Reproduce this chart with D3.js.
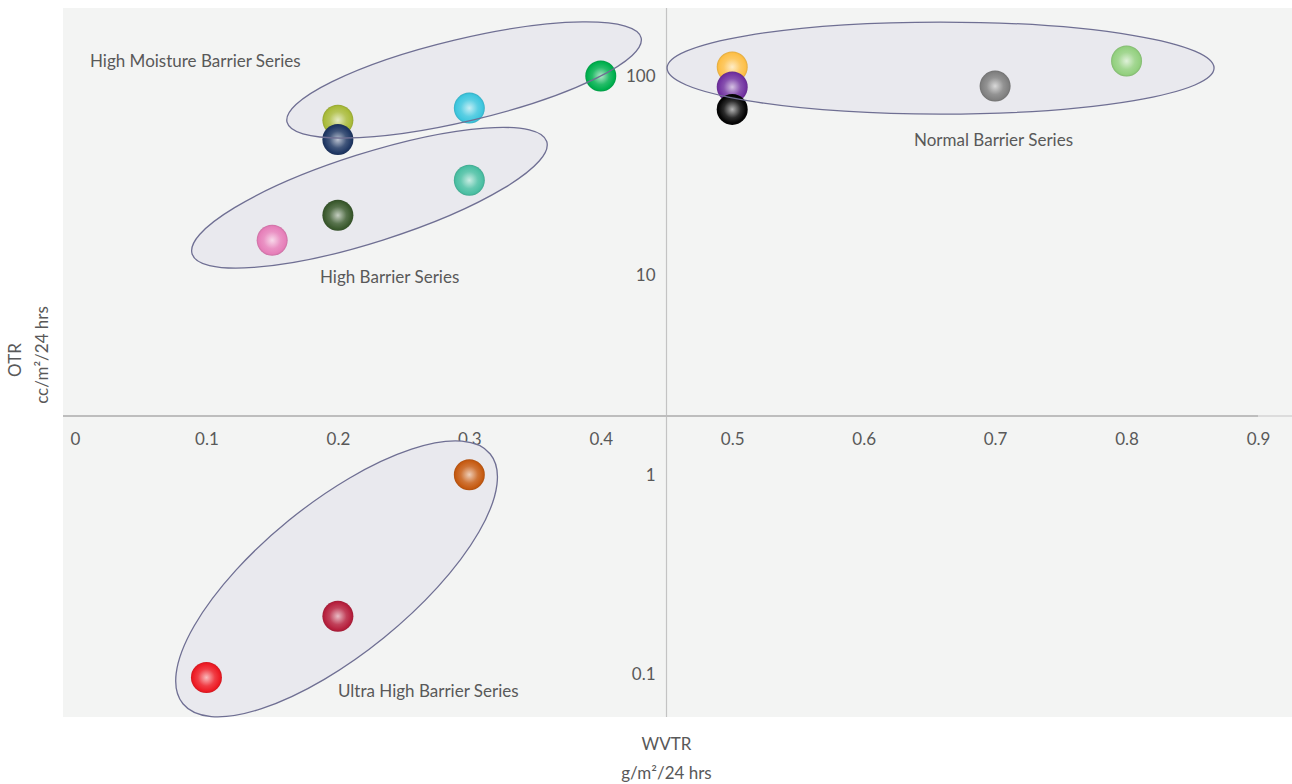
<!DOCTYPE html>
<html>
<head>
<meta charset="utf-8">
<script src="https://cdn.jsdelivr.net/npm/d3@7"></script>
<style>
  body { margin: 0; background: #fff; }
  text { font-family: Lato, "Open Sans", sans-serif; fill: #595959; font-weight: 400; }
</style>
</head>
<body>
<svg id="chart" width="1292" height="784"></svg>
<script>
"use strict";

// data
var seriesNames = [ "High Moisture Barrier Series", "High Barrier Series",
                    "Normal Barrier Series", "Ultra High Barrier Series" ];
var pointSeries = [ 0, 0, 0, 0,  1, 1, 1,  2, 2, 2, 2, 2,  3, 3, 3 ];
var wvtr        = [ 0.2, 0.2, 0.3, 0.4,  0.15, 0.2, 0.3,  0.5, 0.5, 0.5, 0.7, 0.8,  0.1, 0.2, 0.3 ];
var otr         = [ 60, 48, 69, 100,  15, 20, 30,  111, 88, 68, 89, 119,  0.096, 0.195, 1 ];
var xTicks = [ 0, 0.1, 0.2, 0.3, 0.4, 0.5, 0.6, 0.7, 0.8, 0.9 ];
var yTicks = [ 0.1, 1, 10, 100 ];
// group centres in data units
var groupWvtr = [ 0.296, 0.224, 0.6585, 0.199 ];
var groupOtr  = [ 95.5, 24.5, 109.6, 0.30 ];

// styles
var pointColors = [ "#a9bb3a", "#203864", "#3ec6de", "#00b04e",
                    "#e67fb9", "#3b5a2e", "#4bbfa3",
                    "#fdbf47", "#7232a1", "#050505", "#808080", "#93d07f",
                    "#ed1b24", "#b6203d", "#c65b12" ];
var ellipseShape = [ { rx: 182, ry: 41, rot: -13.4 },
                     { rx: 186, ry: 44.4, rot: -17.6 },
                     { rx: 273.5, ry: 46, rot: 0 },
                     { rx: 198, ry: 75.5, rot: -39.1 } ];
var labelPos = [ { x: 90, y: 67 }, { x: 320, y: 283 }, { x: 914, y: 146 }, { x: 338, y: 697 } ];

var svg = d3.select("#chart");
var W = 1292;

var x = d3.scaleLinear().domain([ 0, 0.9 ]).range([ 75, 1258 ]);
var y = d3.scaleLog().domain([ 0.1, 100 ]).range([ 674, 76 ]);
var axisY = 416;
var axisX = x(0.45);

// plot background
svg.append("rect")
  .attr("x", 63).attr("y", 8)
  .attr("width", W - 63).attr("height", 717 - 8)
  .style("fill", "#f3f4f3");

// gradients
var defs = svg.append("defs");
pointColors.forEach(function(c, i) {
  var g = defs.append("radialGradient")
    .attr("id", "ball" + i)
    .attr("cx", "50%").attr("cy", "50%").attr("r", "50%");
  g.append("stop").attr("offset", "0%").attr("stop-color", d3.interpolateRgb(c, "#ffffff")(0.7));
  g.append("stop").attr("offset", "55%").attr("stop-color", d3.interpolateRgb(c, "#ffffff")(0.15));
  g.append("stop").attr("offset", "88%").attr("stop-color", c);
  g.append("stop").attr("offset", "100%").attr("stop-color", d3.color(c).darker(0.35));
});

// axes lines
svg.append("line")
  .attr("x1", axisX).attr("x2", axisX).attr("y1", 8).attr("y2", 717)
  .style("stroke", "#c3c3c3").style("stroke-width", 1.2);
svg.append("line")
  .attr("x1", 63).attr("x2", x(0.9)).attr("y1", axisY).attr("y2", axisY)
  .style("stroke", "#bdbdbd").style("stroke-width", 2);
svg.append("line")
  .attr("x1", x(0.9)).attr("x2", W).attr("y1", axisY).attr("y2", axisY)
  .style("stroke", "#dcdcdc").style("stroke-width", 2);

svg.append("g")
  .attr("transform", "translate(0," + axisY + ")")
  .call(d3.axisBottom(x).tickValues(xTicks).tickSize(0).tickPadding(17)
        .tickFormat(function(d) { return String(d) }));
svg.append("g")
  .attr("transform", "translate(" + (axisX - 11) + ",0)")
  .call(d3.axisLeft(y).tickValues(yTicks).tickSize(0).tickPadding(0)
        .tickFormat(function(d) { return String(d) }));
svg.selectAll(".domain").remove();
svg.selectAll(".tick text")
  .style("font-size", "17px").style("font-family", "Lato, sans-serif").attr("fill", "#595959");

// ellipses (fill)
var groups = seriesNames.map(function(n, i) {
  return { name: n, cx: x(groupWvtr[i]), cy: y(groupOtr[i]), shape: ellipseShape[i], label: labelPos[i] };
});
svg.selectAll("ellipse.fill")
  .data(groups).enter().append("ellipse")
  .attr("class", "fill")
  .attr("transform", function(d) { return "translate(" + d.cx + "," + d.cy + ") rotate(" + d.shape.rot + ")" })
  .attr("rx", function(d) { return d.shape.rx })
  .attr("ry", function(d) { return d.shape.ry })
  .style("fill", "#e9e9ee");

// points
var points = wvtr.map(function(w, i) { return { x: w, y: otr[i], s: pointSeries[i], i: i } });
svg.selectAll("circle.pt")
  .data(points).enter().append("circle")
  .attr("class", "pt")
  .attr("cx", function(d) { return x(d.x) })
  .attr("cy", function(d) { return y(d.y) })
  .attr("r", 15.5)
  .style("fill", function(d) { return "url(#ball" + d.i + ")" });

// ellipse outlines
svg.selectAll("ellipse.edge")
  .data(groups).enter().append("ellipse")
  .attr("class", "edge")
  .attr("transform", function(d) { return "translate(" + d.cx + "," + d.cy + ") rotate(" + d.shape.rot + ")" })
  .attr("rx", function(d) { return d.shape.rx })
  .attr("ry", function(d) { return d.shape.ry })
  .style("fill", "none")
  .style("stroke", "#6f6f93").style("stroke-width", 1.3);

// series labels
svg.selectAll("text.series")
  .data(groups).enter().append("text")
  .attr("class", "series")
  .attr("x", function(d) { return d.label.x })
  .attr("y", function(d) { return d.label.y })
  .style("font-size", "17px")
  .text(function(d) { return d.name });

// axis titles
svg.append("text").attr("transform", "translate(21,360) rotate(-90)")
  .attr("text-anchor", "middle").style("font-size", "17px").text("OTR");
svg.append("text").attr("transform", "translate(48,355) rotate(-90)")
  .attr("text-anchor", "middle").style("font-size", "17px").text("cc/m²/24 hrs");
svg.append("text").attr("x", axisX).attr("y", 750)
  .attr("text-anchor", "middle").style("font-size", "17px").text("WVTR");
svg.append("text").attr("x", axisX).attr("y", 779)
  .attr("text-anchor", "middle").style("font-size", "17px").text("g/m²/24 hrs");
</script>
</body>
</html>
